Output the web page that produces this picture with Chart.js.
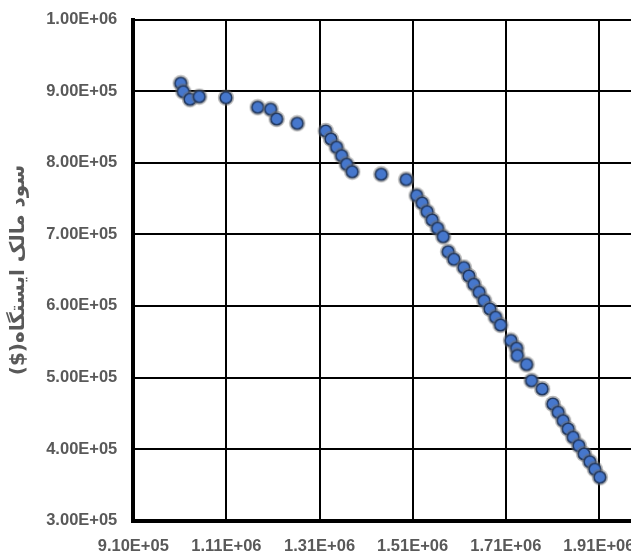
<!DOCTYPE html>
<html>
<head>
<meta charset="utf-8">
<script src="https://cdn.jsdelivr.net/npm/chart.js@4"></script>
<style>
  html, body { margin: 0; padding: 0; background: #fff; overflow: hidden; }
  #wrap { position: absolute; left: 0; top: 0; width: 732px; height: 554px; }
</style>
</head>
<body>
<div id="wrap"><canvas id="chart" width="732" height="554"></canvas></div>
<script>
// valores
const xData = [
  1011800, 1017400, 1031700, 1051700, 1109000, 1177100, 1205000, 1217900, 1262100, 1323100,
  1334500, 1346700, 1357500, 1368200, 1380200, 1442500, 1496200, 1518500, 1530500, 1541200,
  1552000, 1563600, 1575600, 1586300, 1598600, 1620000, 1630800, 1641500, 1652900, 1663600,
  1675900, 1688100, 1698800, 1721000, 1733200, 1734900, 1754700, 1765400, 1788200, 1811100,
  1822500, 1833300, 1844000, 1854700, 1867000, 1878300, 1890600, 1901300, 1912100
];
const yData = [
  910900, 899200, 888600, 892200, 890800, 877400, 874600, 861000, 855000, 844300,
  833100, 821500, 809800, 797800, 787400, 783800, 776500, 754200, 743700, 731600,
  720000, 708400, 696700, 675700, 665100, 653600, 641800, 630200, 619000, 607300,
  595700, 584100, 573300, 551700, 540800, 530700, 518200, 495500, 484000, 463000,
  451400, 439700, 428100, 416500, 404800, 393200, 382400, 371800, 360600
];
const xTicks = [910000, 1110000, 1310000, 1510000, 1710000, 1910000, 2110000];
const yTitle = 'سود مالک ایستگاه($)';

function sci(v) {
  const [m, e] = v.toExponential(2).split('e');
  const n = parseInt(e);
  return m + 'E' + (n < 0 ? '-' : '+') + String(Math.abs(n)).padStart(2, '0');
}

// marcador: círculo azul con borde oscuro y halo gris
function makeMarker() {
  const c = document.createElement('canvas');
  c.width = 18; c.height = 18;
  const g = c.getContext('2d');
  g.beginPath();
  g.arc(9, 9, 8.2, 0, Math.PI * 2);
  g.fillStyle = 'rgba(110,110,110,0.5)';
  g.fill();
  g.beginPath();
  g.arc(9, 9, 5.8, 0, Math.PI * 2);
  g.fillStyle = '#4677cc';
  g.fill();
  g.lineWidth = 1.6;
  g.strokeStyle = '#22385e';
  g.stroke();
  return c;
}

// sin márgenes automáticos: el área del gráfico la fija layout.padding
function noAutoPadding(scale) {
  scale.paddingTop = 0;
  scale.paddingBottom = 0;
  scale.paddingLeft = 0;
  scale.paddingRight = 0;
}

const tickFont = { family: '"Liberation Sans", Arial, sans-serif', size: 16.5, weight: 'bold' };

new Chart(document.getElementById('chart'), {
  type: 'scatter',
  data: {
    datasets: [{
      data: xData.map((x, i) => ({ x: x, y: yData[i] })),
      pointStyle: makeMarker(),
      pointRadius: 6,
      pointHoverRadius: 6
    }]
  },
  options: {
    responsive: false,
    animation: false,
    layout: { padding: { top: 19.5, right: 40, left: 0, bottom: 0 } },
    plugins: {
      legend: { display: false },
      tooltip: { enabled: false }
    },
    scales: {
      x: {
        type: 'linear',
        min: 910000,
        max: 2110000,
        afterBuildTicks: (scale) => { scale.ticks = xTicks.map(v => ({ value: v })); },
        afterFit: (scale) => { scale.height = 33.3; noAutoPadding(scale); },
        grid: { color: '#000', lineWidth: 2, drawTicks: false },
        border: { display: true, color: '#000', width: 4 },
        ticks: {
          color: '#595959',
          font: tickFont,
          padding: 16,
          maxRotation: 0,
          autoSkip: false,
          callback: (v) => sci(v)
        }
      },
      y: {
        min: 300000,
        max: 1000000,
        afterFit: (scale) => { scale.width = 133.3; noAutoPadding(scale); },
        grid: { color: '#000', lineWidth: 2, drawTicks: false },
        border: { display: true, color: '#000', width: 4 },
        ticks: {
          stepSize: 100000,
          color: '#595959',
          font: tickFont,
          padding: 16,
          callback: (v) => sci(v)
        },
        title: {
          display: true,
          text: '\u202B' + yTitle + '\u202C',
          color: '#595959',
          font: { family: '"DejaVu Sans", sans-serif', size: 20, weight: 'bold' },
          padding: { top: 7, bottom: 0 }
        }
      }
    }
  }
});
</script>
</body>
</html>
